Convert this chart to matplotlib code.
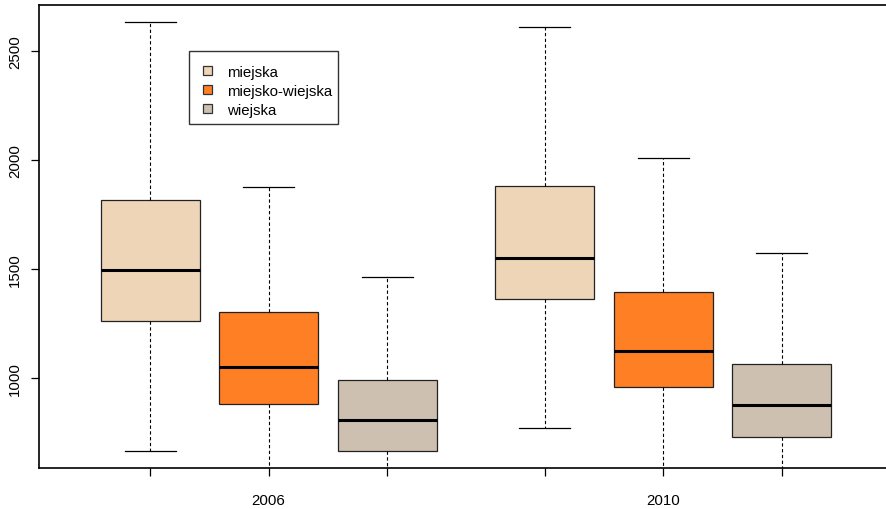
import matplotlib
matplotlib.use("Agg")
import matplotlib.pyplot as plt
from matplotlib.patches import Patch, Rectangle

plt.rcParams['font.family'] = ['Liberation Sans', 'DejaVu Sans']

# five-number summaries per settlement type and year
years = ["2006", "2010"]
types = ["miejska", "miejsko-wiejska", "wiejska"]
colors = ["#EED5B7", "#FF7F24", "#CDC0B0"]

whisker_hi = [2631, 1875, 1464, 2607, 2008, 1571]
q3 = [1817, 1301, 991, 1879, 1393, 1066]
median = [1495, 1052, 806, 1550, 1125, 878]
q1 = [1260, 879, 664, 1361, 957, 728]
whisker_lo = [667, 420, 380, 771, 470, 450]

positions = [1, 2, 3, 4.33, 5.33, 6.33]

stats = []
for i in range(len(positions)):
    stats.append(dict(whislo=whisker_lo[i], q1=q1[i], med=median[i],
                      q3=q3[i], whishi=whisker_hi[i], fliers=[]))

W, H = 887, 510
fig = plt.figure(figsize=(W / 100, H / 100), dpi=100)
ax = fig.add_axes([39 / W, 1 - 469.3 / H, 1 - 39 / W, (469.3 - 5.7) / H])

bp = ax.bxp(stats, positions=positions, widths=0.835, capwidths=0.43,
            patch_artist=True, showfliers=False,
            boxprops=dict(edgecolor="#222222", linewidth=0.9),
            whiskerprops=dict(color="black", linewidth=0.8, linestyle=(0, (3, 2.2))),
            capprops=dict(color="black", linewidth=0.9),
            medianprops=dict(color="black", linewidth=2.2))
for i, box in enumerate(bp["boxes"]):
    box.set_facecolor(colors[i % 3])

ax.set_xlim(0.063, 7.219)
ax.set_ylim(586, 2711)
ax.set_yticks([1000, 1500, 2000, 2500])
ax.set_xticks(positions)
ax.set_xticklabels(["", years[0], "", "", years[1], ""])
plt.setp(ax.get_yticklabels(), rotation=90, va="center")

ax.spines["right"].set_visible(False)
for s in ["left", "bottom", "top"]:
    ax.spines[s].set_linewidth(1.2)
ax.tick_params(axis="both", length=6, width=0.9, labelsize=10.8)
ax.tick_params(axis="x", pad=12)
ax.tick_params(axis="y", pad=6)

# legend drawn without its frame, box added separately
handles = [Patch(facecolor=c, edgecolor="#333333", linewidth=0.9) for c in colors]
leg = fig.legend(handles, types, loc="upper left",
                 bbox_to_anchor=(203 / W, 1 - 66 / H), frameon=False,
                 fontsize=10.8, handlelength=0.6, handleheight=0.6,
                 handletextpad=1.0, labelspacing=0.33, borderpad=0, borderaxespad=0)
fig.add_artist(Rectangle((189.3 / W, 1 - 124.7 / H), (338 - 189.3) / W, (124.7 - 52.3) / H,
                         transform=fig.transFigure, facecolor="none",
                         edgecolor="#333333", linewidth=1.0))

fig.savefig("out.png", dpi=100)
